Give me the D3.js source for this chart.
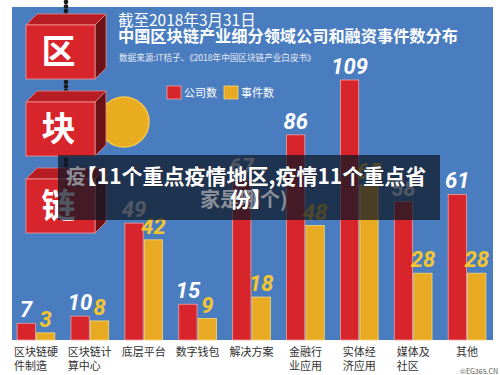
<!DOCTYPE html>
<html>
<head>
<meta charset="utf-8">
<script src="https://cdn.jsdelivr.net/npm/d3@7"></script>
<style>
  body { margin: 0; background: #fff; }
  svg { display: block; font-family: "Noto Sans CJK SC", "Noto Sans", sans-serif; }
  .num { font-family: "Liberation Sans Narrow", "Roboto", sans-serif; font-weight: bold; font-style: italic; }
</style>
</head>
<body>
<div id="chart"></div>
<script>
var categories = [
  ['区块链硬', '件制造'],
  ['区块链计', '算中心'],
  ['底层平台'],
  ['数字钱包'],
  ['解决方案'],
  ['金融行', '业应用'],
  ['实体经', '济应用'],
  ['媒体及', '社区'],
  ['其他']
];
var seriesNames = ['公司数', '事件数'];
var companies = [7, 10, 49, 15, 67, 86, 109, 58, 61];
var events = [3, 8, 42, 9, 18, 48, 65, 28, 28];

var W = 500, H = 375;
var blue = '#4a7dbf', red = '#d8242b', yellow = '#e8aa22';
function segColor(i){ return [red, yellow][i]; }
function labColor(i){ return ['#ffffff', '#f3c631'][i]; }

var svg = d3.select('#chart').append('svg')
    .attr('width', W).attr('height', H);

// background panel
svg.append('rect').attr('x', 12).attr('y', 7).attr('width', 481).attr('height', 333)
    .attr('fill', blue);

var keys = categories.map(function(d, i){ return 'c' + i; });
var x0 = d3.scaleBand().domain(keys).range([9, 494]).paddingInner(0.3).paddingOuter(0.15);
var x1 = d3.scaleBand().domain(seriesNames).range([0, x0.bandwidth()]).paddingInner(0.06);
var y = d3.scaleLinear().domain([0, 109]).range([340, 80]);

// decoration: chain + cubes + coin
var chain = svg.append('g');
[[0, 22], [80, 101], [158, 176]].forEach(function(r){
    for (var cy = r[0] + 2; cy <= r[1]; cy += 4.5) {
        chain.append('circle').attr('cx', 66).attr('cy', cy).attr('r', 2.3).attr('fill', '#1a1a1a');
    }
});

svg.append('circle').attr('cx', 124).attr('cy', 122).attr('r', 25)
    .attr('fill', '#e9ab20').attr('stroke', '#f5c94a').attr('stroke-width', 1.5);

var cubes = [{t: '区', y: 25}, {t: '块', y: 102}, {t: '链', y: 179}];
var cx0 = 26, cw = 69, ch = 54, dep = 11;
cubes.forEach(function(c){
    var g = svg.append('g');
    g.append('path')
        .attr('d', 'M' + cx0 + ',' + c.y + 'L' + (cx0 + dep) + ',' + (c.y - dep) + 'L' + (cx0 + cw + dep) + ',' + (c.y - dep) + 'L' + (cx0 + cw) + ',' + c.y + 'Z')
        .attr('fill', '#b91d24').attr('stroke', '#e88a8a').attr('stroke-width', 0.8);
    g.append('path')
        .attr('d', 'M' + (cx0 + cw) + ',' + c.y + 'L' + (cx0 + cw + dep) + ',' + (c.y - dep) + 'L' + (cx0 + cw + dep) + ',' + (c.y + ch - dep) + 'L' + (cx0 + cw) + ',' + (c.y + ch) + 'Z')
        .attr('fill', '#6d1216').attr('stroke', '#e88a8a').attr('stroke-width', 0.8);
    g.append('rect').attr('x', cx0).attr('y', c.y).attr('width', cw).attr('height', ch)
        .attr('fill', red).attr('stroke', '#ef9c9c').attr('stroke-width', 0.8);
    g.append('text').text(c.t)
        .attr('x', cx0 + cw / 2 - 2).attr('y', c.y + ch / 2 + 12)
        .attr('text-anchor', 'middle').attr('font-size', 34).attr('font-weight', 'bold')
        .attr('fill', '#fff');
});

// titles
svg.append('text').text('截至2018年3月31日')
    .attr('x', 118).attr('y', 26).attr('font-size', 15.5).attr('fill', '#fff');
svg.append('text').text('中国区块链产业细分领域公司和融资事件数分布')
    .attr('x', 118).attr('y', 42).attr('font-size', 16.2).attr('font-weight', 'bold').attr('fill', '#fff');
svg.append('text').text('数据来源:IT桔子、《2018年中国区块链产业白皮书》')
    .attr('x', 119).attr('y', 61).attr('font-size', 8.6).attr('fill', '#e6ecf5');

// legend
var leg = svg.append('g').selectAll('g').data(seriesNames).enter().append('g')
    .attr('transform', function(d, i){ return 'translate(' + (167 + i * 57) + ',86)'; });
leg.append('rect').attr('width', 14).attr('height', 13)
    .attr('fill', function(d, i){ return segColor(i); })
    .attr('stroke', function(d, i){ return i ? '#f6d77a' : '#f2a0a0'; }).attr('stroke-width', 0.8);
leg.append('text').text(function(d){ return d; })
    .attr('x', 17).attr('y', 11).attr('font-size', 11).attr('fill', '#fff');

// bars
var groups = svg.append('g').selectAll('g').data(keys).enter().append('g')
    .attr('transform', function(d){ return 'translate(' + x0(d) + ',0)'; });

var bars = groups.selectAll('.bar').data(function(d, i){
        return [{s: 0, k: seriesNames[0], v: companies[i]}, {s: 1, k: seriesNames[1], v: events[i]}];
    }).enter().append('g').attr('class', 'bar');

bars.append('rect')
    .attr('x', function(d){ return x1(d.k); })
    .attr('y', function(d){ return y(d.v); })
    .attr('width', x1.bandwidth())
    .attr('height', function(d){ return y(0) - y(d.v); })
    .attr('fill', function(d){ return segColor(d.s); })
    .attr('stroke', function(d){ return d.s ? '#f6d77a' : '#f2a0a0'; })
    .attr('stroke-width', 0.8);

bars.append('text').attr('class', 'num')
    .text(function(d){ return d.v; })
    .attr('x', function(d){ return x1(d.k) + x1.bandwidth() / 2; })
    .attr('y', function(d){ return y(d.v) - 6; })
    .attr('text-anchor', 'middle')
    .attr('font-size', 22)
    .attr('fill', function(d){ return labColor(d.s); });

// category labels
groups.append('text')
    .attr('font-size', 11).attr('fill', '#333')
    .each(function(d, i){
        var lines = categories[i];
        var left = x0.bandwidth() / 2 - lines[0].length * 11 / 2;
        d3.select(this).selectAll('tspan').data(lines).enter().append('tspan')
            .attr('x', left)
            .attr('y', function(l, j){ return 356 + j * 14; })
            .text(function(l){ return l; });
    });

svg.append('text').text('©EG365.CN')
    .attr('x', 498).attr('y', 374).attr('text-anchor', 'end')
    .attr('font-size', 7).attr('fill', '#555');

// overlay banner
var ban = svg.append('g');
ban.append('rect').attr('x', 58).attr('y', 155).attr('width', 382).attr('height', 65)
    .attr('fill', 'rgb(12,22,38)').attr('opacity', 0.72);
ban.append('text').text('疫').attr('x', 66).attr('y', 184)
    .attr('font-size', 20).attr('font-weight', 'bold').attr('fill', '#8a8f98');
ban.append('text').text('家是哪个)').attr('x', 200).attr('y', 207)
    .attr('font-size', 20).attr('font-weight', 'bold').attr('fill', '#8a8f98');
ban.selectAll('.bt').data(['【11个重点疫情地区,疫情11个重点省', '份】']).enter().append('text')
    .attr('class', 'bt')
    .text(function(d){ return d; })
    .attr('x', 251).attr('y', function(d, i){ return 184 + i * 23; })
    .attr('text-anchor', 'middle')
    .attr('font-size', 21).attr('font-weight', 'bold')
    .attr('fill', '#fff')
    .attr('stroke', '#1b2536').attr('stroke-width', 0.6).attr('paint-order', 'stroke');
</script>
</body>
</html>
